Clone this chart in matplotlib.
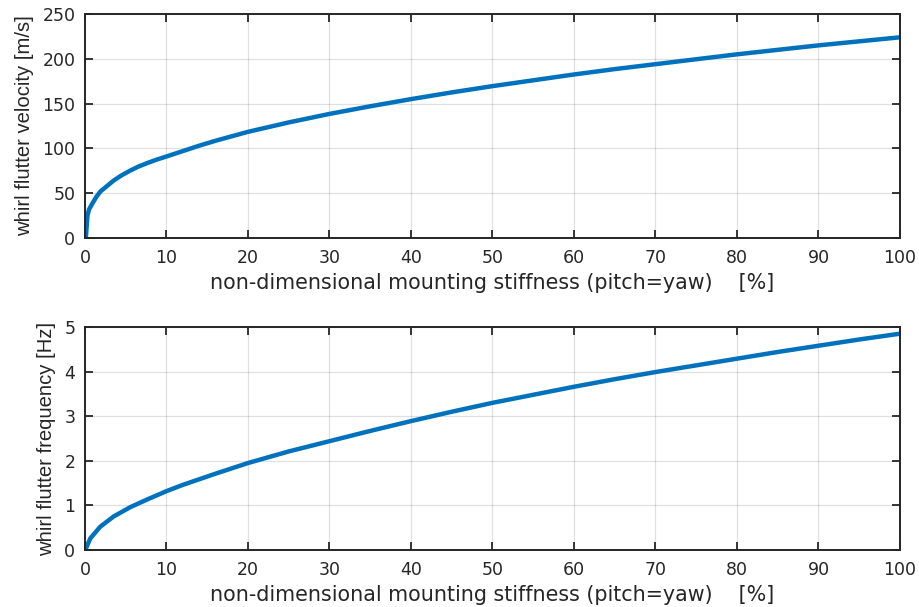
import matplotlib
matplotlib.use("Agg")
import matplotlib.pyplot as plt

plt.rcParams['font.family'] = ['DejaVu Sans']

# Mounting stiffness [%] and whirl flutter velocity [m/s]
stiff_v = [0.1, 0.3, 0.5, 1.0, 1.4, 1.9, 2.7, 3.5, 4.5, 5.5, 6.5, 7.6, 8.8, 10,
           12, 14, 16, 18, 20, 25, 30, 35, 40, 45, 50, 55, 60, 65, 70, 75,
           80, 85, 90, 95, 100]
velocity = [0, 25, 32, 40, 46, 52, 58, 64, 70, 75, 79.5, 83.5, 87.5, 91,
            97, 103, 108.5, 113.5, 118.5, 129, 138.5, 147, 155, 162.5, 169.5,
            176, 182.5, 188.5, 194, 199.5, 205, 210, 215, 219.5, 224]

# Mounting stiffness [%] and whirl flutter frequency [Hz]
stiff_f = [0.1, 0.65, 1.86, 3.5, 5.55, 7.6, 10, 12, 14, 16, 18, 20, 25, 30,
           35, 40, 45, 50, 55, 60, 65, 70, 75, 80, 85, 90, 95, 100]
frequency = [0.03, 0.26, 0.52, 0.75, 0.96, 1.13, 1.32, 1.46, 1.585, 1.71, 1.83,
             1.95, 2.21, 2.44, 2.67, 2.89, 3.10, 3.30, 3.48, 3.66, 3.83, 3.99,
             4.14, 4.29, 4.44, 4.58, 4.72, 4.85]

x_ticks = list(range(0, 101, 10))
v_ticks = [0, 50, 100, 150, 200, 250]
f_ticks = [0, 1, 2, 3, 4, 5]

x_label = "non-dimensional mounting stiffness (pitch=yaw)    [%]"
v_label = "whirl flutter velocity [m/s]"
f_label = "whirl flutter frequency [Hz]"

line_color = "#0072BD"
ink = "#262626"

fig = plt.figure(figsize=(9.2, 6.07), dpi=100)
ax1 = fig.add_axes([85 / 920, 1 - 238 / 607, 815 / 920, 224 / 607])
ax2 = fig.add_axes([85 / 920, 1 - 550 / 607, 815 / 920, 223 / 607])


def style(ax, yticks, ylabel):
    ax.set_xlim(0, 100)
    ax.set_ylim(yticks[0], yticks[-1])
    ax.set_xticks(x_ticks)
    ax.set_yticks(yticks)
    ax.grid(True, color="#000000", alpha=0.12, linewidth=0.9)
    ax.set_axisbelow(True)
    for s in ax.spines.values():
        s.set_color(ink)
        s.set_linewidth(1.4)
    ax.tick_params(direction="in", length=5.5, width=1.3, colors=ink,
                   top=True, right=True, labelsize=12.5)
    ax.tick_params(axis="x", pad=8)
    ax.tick_params(axis="y", pad=7)
    ax.set_xlabel(x_label, fontsize=14.9, color=ink, labelpad=4)
    ax.set_ylabel(ylabel, fontsize=14.6, color=ink, labelpad=6,
                  family=['Liberation Sans', 'DejaVu Sans'])


ax1.plot(stiff_v, velocity, color=line_color, linewidth=3.2,
         solid_capstyle="butt", solid_joinstyle="round")
style(ax1, v_ticks, v_label)

ax2.plot(stiff_f, frequency, color=line_color, linewidth=3.2,
         solid_capstyle="butt", solid_joinstyle="round")
style(ax2, f_ticks, f_label)

fig.savefig("out.png", dpi=100)
